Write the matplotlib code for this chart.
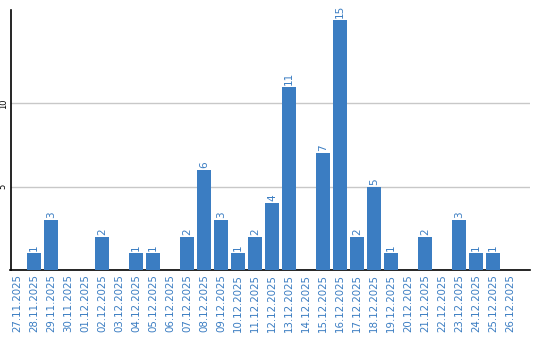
import matplotlib
matplotlib.use("Agg")
import matplotlib.pyplot as plt

dates = ["27.11.2025", "28.11.2025", "29.11.2025", "30.11.2025", "01.12.2025",
         "02.12.2025", "03.12.2025", "04.12.2025", "05.12.2025", "06.12.2025",
         "07.12.2025", "08.12.2025", "09.12.2025", "10.12.2025", "11.12.2025",
         "12.12.2025", "13.12.2025", "14.12.2025", "15.12.2025", "16.12.2025",
         "17.12.2025", "18.12.2025", "19.12.2025", "20.12.2025", "21.12.2025",
         "22.12.2025", "23.12.2025", "24.12.2025", "25.12.2025", "26.12.2025"]
values = [0, 1, 3, 0, 0, 2, 0, 1, 1, 0, 2, 6, 3, 1, 2, 4, 11, 0, 7, 15,
          2, 5, 1, 0, 2, 0, 3, 1, 1, 0]
yticks = [5, 10]

blue = "#3b7dc2"
fig = plt.figure(figsize=(5.4, 3.4), dpi=100)
ax = fig.add_axes([10.5/540, 70/340, (530-10.5)/540, (270-10)/340])

x = list(range(len(dates)))
ax.bar(x, values, width=0.82, color=blue, zorder=3)
for xi, v in zip(x, values):
    if v > 0:
        ax.text(xi, v + 0.12, str(v), rotation=90, ha="center", va="bottom",
                color=blue, fontsize=7.5, zorder=4)

ax.set_xlim(-0.38, 30.18)
ax.set_ylim(0, 15.6)
ax.set_yticks(yticks)
ax.set_yticklabels([str(t) for t in yticks], rotation=90, va="center", fontsize=6)
ax.yaxis.grid(True, color="#c8c8c8", linewidth=1, zorder=0)
ax.set_xticks(x)
ax.set_xticklabels(dates, rotation=90, color=blue, fontsize=7.4)
ax.tick_params(axis="both", length=0, pad=3)
ax.tick_params(axis="y", pad=2)
for s in ["top", "right"]:
    ax.spines[s].set_visible(False)
ax.spines["left"].set_color("black")
ax.spines["bottom"].set_color("black")
ax.spines["left"].set_linewidth(1.2)
ax.spines["bottom"].set_linewidth(1.2)

fig.savefig("out.png", dpi=100)
